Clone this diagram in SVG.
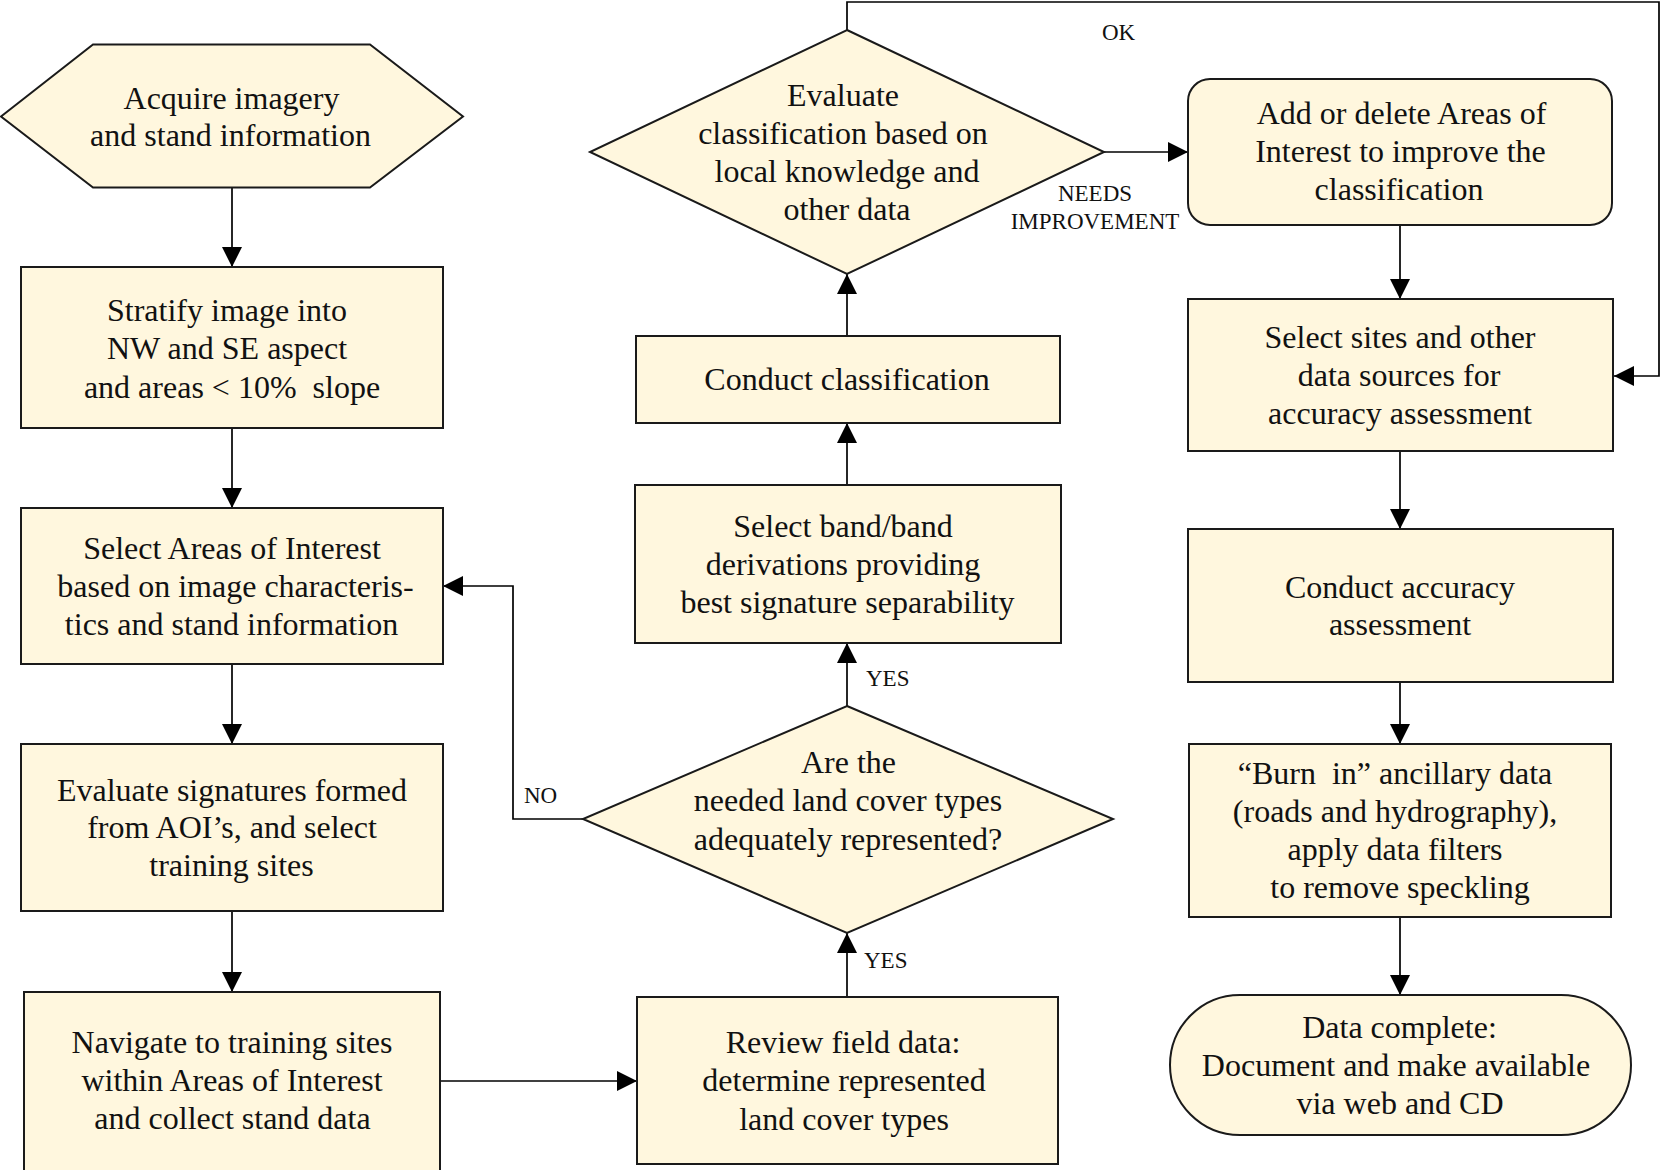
<svg xmlns="http://www.w3.org/2000/svg" width="1661" height="1170" viewBox="0 0 1661 1170">
<defs>
<marker id="ah" markerUnits="userSpaceOnUse" markerWidth="21" markerHeight="20" refX="20" refY="10" orient="auto">
<path d="M0,0 L20,10 L0,20 z" fill="#000"/>
</marker>
<style>
.n{fill:#FFF7DE;stroke:#1a1a1a;stroke-width:2}
.t{font-family:"Liberation Serif","Times New Roman",serif;font-size:32px;fill:#111;text-anchor:middle;white-space:pre}
.l{font-family:"Liberation Serif","Times New Roman",serif;font-size:23px;fill:#111;white-space:pre}
.c{fill:none;stroke:#000;stroke-width:1.7}
.a{marker-end:url(#ah)}
</style>
</defs>
<rect width="1661" height="1170" fill="#fff"/>

<g id="connectors">
<line class="c a" x1="232" y1="188" x2="232" y2="267"/>
<line class="c a" x1="232" y1="428" x2="232" y2="508"/>
<line class="c a" x1="232" y1="664" x2="232" y2="744"/>
<line class="c a" x1="232" y1="911" x2="232" y2="992"/>
<line class="c a" x1="440" y1="1081" x2="637" y2="1081"/>
<line class="c a" x1="847" y1="997" x2="847" y2="933"/>
<line class="c a" x1="847" y1="706" x2="847" y2="643"/>
<polyline class="c a" points="583,819 513,819 513,586 443,586"/>
<line class="c a" x1="847" y1="485" x2="847" y2="423"/>
<line class="c a" x1="847" y1="336" x2="847" y2="274"/>
<polyline class="c a" points="847,30 847,2 1659,2 1659,376 1614,376"/>
<line class="c a" x1="1104" y1="152" x2="1188" y2="152"/>
<line class="c a" x1="1400" y1="225" x2="1400" y2="299"/>
<line class="c a" x1="1400" y1="451" x2="1400" y2="529"/>
<line class="c a" x1="1400" y1="682" x2="1400" y2="744"/>
<line class="c a" x1="1400" y1="917" x2="1400" y2="995"/>
<text class="l" x="1102" y="40">OK</text>
<text class="l" x="1095" y="201" text-anchor="middle">NEEDS</text>
<text class="l" x="1095" y="229" text-anchor="middle">IMPROVEMENT</text>
<text class="l" x="524" y="803">NO</text>
<text class="l" x="866" y="686">YES</text>
<text class="l" x="864" y="968">YES</text>
</g>

<g id="acquire">
<polygon class="n" points="1,116.5 93,44.5 370,44.5 463,116.5 370,187.5 93,187.5"/>
<text class="t" x="231.5" y="109">Acquire imagery</text>
<text class="t" x="230.5" y="146">and stand information</text>
</g>

<g id="stratify">
<rect class="n" x="21" y="267" width="422" height="161"/>
<text class="t" x="227" y="321">Stratify image into</text>
<text class="t" x="227" y="359">NW and SE aspect</text>
<text class="t" x="232" y="398">and areas &lt; 10%  slope</text>
</g>

<g id="select-aoi">
<rect class="n" x="21" y="508" width="422" height="156"/>
<text class="t" x="232" y="559">Select Areas of Interest</text>
<text class="t" x="235.5" y="597">based on image characteris-</text>
<text class="t" x="231.5" y="635">tics and stand information</text>
</g>

<g id="evaluate-signatures">
<rect class="n" x="21" y="744" width="422" height="167"/>
<text class="t" x="232" y="801">Evaluate signatures formed</text>
<text class="t" x="232" y="838">from AOI’s, and select</text>
<text class="t" x="231.5" y="876">training sites</text>
</g>

<g id="navigate">
<rect class="n" x="24" y="992" width="416" height="190"/>
<text class="t" x="232" y="1053">Navigate to training sites</text>
<text class="t" x="232" y="1091">within Areas of Interest</text>
<text class="t" x="232.5" y="1129">and collect stand data</text>
</g>

<g id="review">
<rect class="n" x="637" y="997" width="421" height="167"/>
<text class="t" x="843" y="1053">Review field data:</text>
<text class="t" x="844" y="1091">determine represented</text>
<text class="t" x="844" y="1130">land cover types</text>
</g>

<g id="are-types-represented">
<polygon class="n" points="847,706 1113,819 847,933 583,819"/>
<text class="t" x="848.5" y="773">Are the</text>
<text class="t" x="848" y="811">needed land cover types</text>
<text class="t" x="848" y="850">adequately represented?</text>
</g>

<g id="select-band">
<rect class="n" x="635" y="485" width="426" height="158"/>
<text class="t" x="843" y="537">Select band/band</text>
<text class="t" x="843" y="575">derivations providing</text>
<text class="t" x="847.5" y="613">best signature separability</text>
</g>

<g id="conduct-classification">
<rect class="n" x="636" y="336" width="424" height="87"/>
<text class="t" x="847" y="390">Conduct classification</text>
</g>

<g id="evaluate-classification">
<polygon class="n" points="847,30 1104,152 847,274 590,152"/>
<text class="t" x="843" y="106">Evaluate</text>
<text class="t" x="843" y="144">classification based on</text>
<text class="t" x="847" y="182">local knowledge and</text>
<text class="t" x="847" y="220">other data</text>
</g>

<g id="add-delete-aoi">
<rect class="n" x="1188" y="79" width="424" height="146" rx="22" ry="22"/>
<text class="t" x="1401.5" y="124">Add or delete Areas of</text>
<text class="t" x="1400.5" y="162">Interest to improve the</text>
<text class="t" x="1399" y="200">classification</text>
</g>

<g id="select-sites">
<rect class="n" x="1188" y="299" width="425" height="152"/>
<text class="t" x="1400" y="348">Select sites and other</text>
<text class="t" x="1399" y="386">data sources for</text>
<text class="t" x="1400" y="424">accuracy assessment</text>
</g>

<g id="conduct-accuracy">
<rect class="n" x="1188" y="529" width="425" height="153"/>
<text class="t" x="1400" y="598">Conduct accuracy</text>
<text class="t" x="1400" y="635">assessment</text>
</g>

<g id="burn-in">
<rect class="n" x="1189" y="744" width="422" height="173"/>
<text class="t" x="1395" y="784">“Burn  in” ancillary data</text>
<text class="t" x="1395" y="822">(roads and hydrography),</text>
<text class="t" x="1395" y="860">apply data filters</text>
<text class="t" x="1400" y="898">to remove speckling</text>
</g>

<g id="data-complete">
<rect class="n" x="1170" y="995" width="461" height="140" rx="70" ry="70"/>
<text class="t" x="1399.5" y="1038">Data complete:</text>
<text class="t" x="1396" y="1076">Document and make available</text>
<text class="t" x="1400" y="1114">via web and CD</text>
</g>
</svg>
